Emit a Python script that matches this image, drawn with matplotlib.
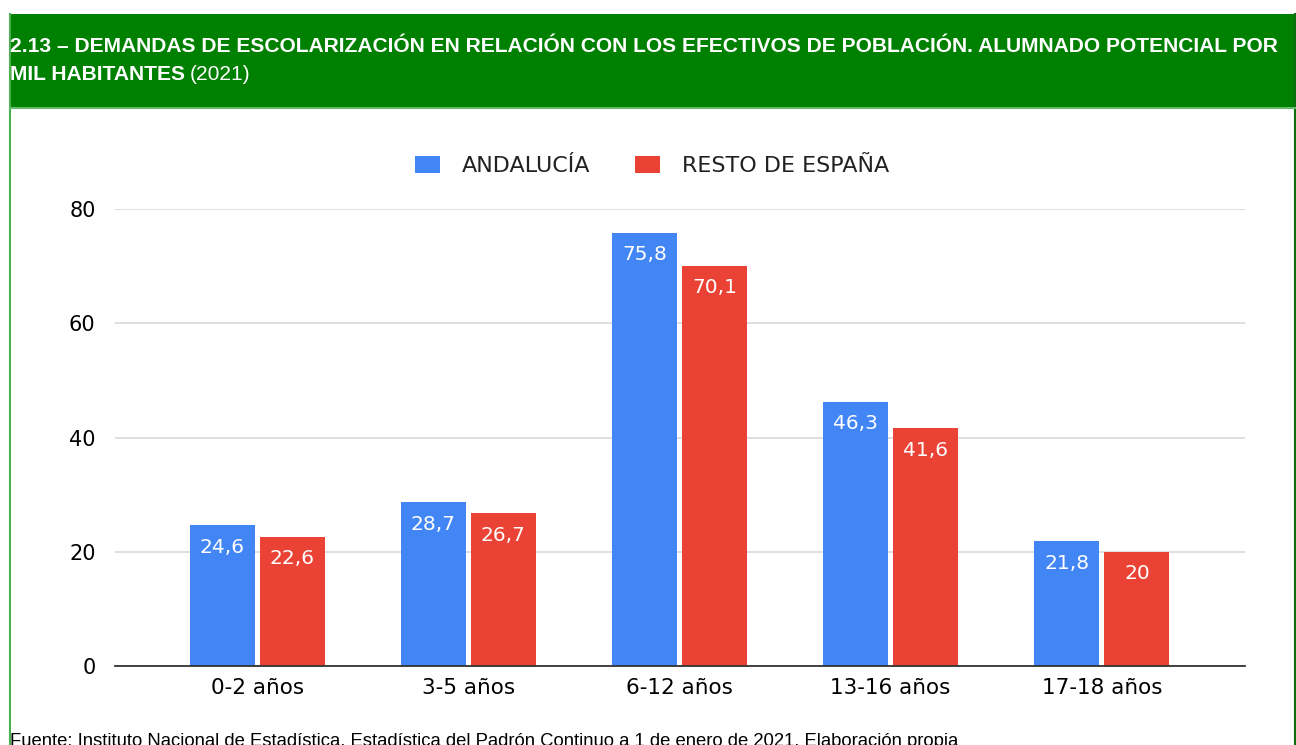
import matplotlib.pyplot as plt
from matplotlib.patches import Rectangle
from matplotlib.text import Annotation
import numpy as np

categorias = ['0-2 años', '3-5 años', '6-12 años', '13-16 años', '17-18 años']
andalucia = [24.6, 28.7, 75.8, 46.3, 21.8]
resto = [22.6, 26.7, 70.1, 41.6, 20]
series = ['ANDALUCÍA', 'RESTO DE ESPAÑA']
yticks = [0, 20, 40, 60, 80]

azul = '#4285f4'
rojo = '#ea4335'
verde = '#008000'
fuente = 'DejaVu Sans'

W, H = 1296, 745
fig = plt.figure(figsize=(W / 100, H / 100), dpi=100)
fig.patch.set_facecolor('white')

# cabecera verde y marco
fig.patches.append(Rectangle((10 / W, 1 - 107 / H), (W - 10) / W, 93 / H,
                             transform=fig.transFigure, facecolor=verde,
                             edgecolor='none', zorder=0))
fig.add_artist(plt.Line2D([10 / W, 10 / W], [0, 1 - 14 / H], transform=fig.transFigure,
                          color='#4caf50', lw=1.5))
fig.add_artist(plt.Line2D([1295 / W, 1295 / W], [0, 1 - 14 / H], transform=fig.transFigure,
                          color='#0a6e0a', lw=1.5))
fig.add_artist(plt.Line2D([10 / W, 1 - 1 / W], [1 - 107.5 / H, 1 - 107.5 / H],
                          transform=fig.transFigure, color='#66bb6a', lw=1.5))

fig.text(10 / W, 1 - 47 / H,
         '2.13 – DEMANDAS DE ESCOLARIZACIÓN EN RELACIÓN CON LOS EFECTIVOS DE POBLACIÓN. ALUMNADO POTENCIAL POR',
         color='white', fontsize=15.1, fontweight='bold', family='Liberation Sans', va='center')
t2 = fig.text(10 / W, 1 - 74 / H, 'MIL HABITANTES', color='white', fontsize=15.1,
              fontweight='bold', family='Liberation Sans', va='center')
fig.add_artist(Annotation('(2021)', xy=(1, 0.5), xycoords=t2, xytext=(5, 0),
                          textcoords='offset pixels', va='center', ha='left',
                          color='white', fontsize=15.1, family='Liberation Sans'))

fig.text(10 / W, 1 - 741 / H,
         'Fuente: Instituto Nacional de Estadística, Estadística del Padrón Continuo a 1 de enero de 2021. Elaboración propia',
         color='black', fontsize=13.3, family='Liberation Sans', va='center')

# ejes
ax = fig.add_axes([115 / W, 1 - 666 / H, 1130 / W, 457 / H])

x = np.arange(len(categorias))
bw = 0.308
off = 0.166
b1 = ax.bar(x - off, andalucia, bw, color=azul, label=series[0], zorder=3)
b2 = ax.bar(x + off, resto, bw, color=rojo, label=series[1], zorder=3)

for bars, vals in ((b1, andalucia), (b2, resto)):
    for b, v in zip(bars, vals):
        txt = ('%g' % v).replace('.', ',')
        ax.annotate(txt, (b.get_x() + b.get_width() / 2, v), xytext=(0, -22),
                    textcoords='offset pixels',
                    ha='center', va='center', color='white', fontsize=14.5,
                    family=fuente, zorder=4)

ax.set_xlim(-0.673, 4.678)
ax.set_ylim(0, 80)
ax.set_yticks(yticks)
ax.set_yticklabels([str(t) for t in yticks], family=fuente, fontsize=15)
ax.set_xticks(x)
ax.set_xticklabels(categorias, family=fuente, fontsize=15.5)
ax.tick_params(length=0, pad=14, colors='black')
ax.tick_params(axis='x', pad=9)
ax.grid(axis='y', color='#d9d9d9', lw=1.2, zorder=0)
for s in ['top', 'right', 'left']:
    ax.spines[s].set_visible(False)
ax.spines['bottom'].set_color('#333333')
ax.spines['bottom'].set_linewidth(1.3)
ax.spines['bottom'].set_zorder(5)

leg = fig.legend(loc='center', bbox_to_anchor=(652 / W, 1 - 166 / H), ncol=2,
                 frameon=False, prop={'family': fuente, 'size': 16},
                 handlelength=1.12, handleheight=0.85, columnspacing=2.0,
                 handletextpad=1.0)
for t in leg.get_texts():
    t.set_color('#222222')

fig.savefig('out.png', dpi=100)
